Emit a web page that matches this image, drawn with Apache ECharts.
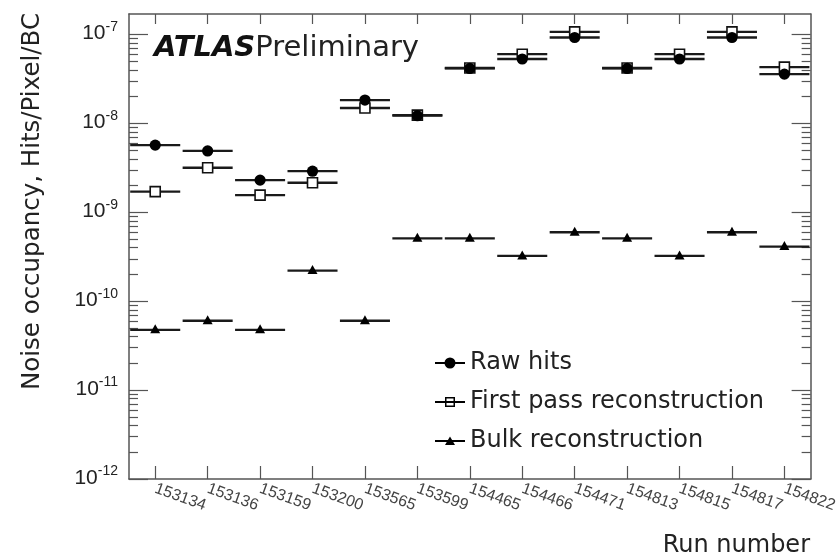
<!DOCTYPE html>
<html>
<head>
<meta charset="utf-8">
<script src="https://cdn.jsdelivr.net/npm/echarts@6/dist/echarts.min.js"></script>
<style>
  html, body { margin: 0; padding: 0; background: #fff; }
  #chart { width: 840px; height: 558px; }
</style>
</head>
<body>
<div id="chart"></div>
<script>
// Run numbers on the x axis
const runs = ['153134', '153136', '153159', '153200', '153565', '153599',
              '154465', '154466', '154471', '154813', '154815', '154817', '154822'];

// Noise occupancy (hits / pixel / bunch crossing) per run
const rawHits   = [5.7e-9, 4.9e-9, 2.3e-9, 2.9e-9, 1.83e-8, 1.22e-8,
                   4.15e-8, 5.3e-8, 9.25e-8, 4.15e-8, 5.3e-8, 9.25e-8, 3.58e-8];
const firstPass = [1.71e-9, 3.17e-9, 1.56e-9, 2.15e-9, 1.49e-8, 1.24e-8,
                   4.2e-8, 6.0e-8, 1.07e-7, 4.2e-8, 6.0e-8, 1.07e-7, 4.29e-8];
const bulkReco  = [4.76e-11, 6.03e-11, 4.76e-11, 2.21e-10, 6.03e-11, 5.1e-10,
                   5.1e-10, 3.23e-10, 5.96e-10, 5.1e-10, 3.23e-10, 5.96e-10, 4.11e-10];

// Decade tick values for the log axis
const decades = [1e-12, 1e-11, 1e-10, 1e-9, 1e-8, 1e-7];
const yMin = 1e-12;
const yMax = 1.7e-7;

// 2..9 sub-ticks inside each decade
const minorTicks = [];
decades.forEach(function (d) {
  for (let k = 2; k <= 9; k++) {
    const v = d * k;
    if (v < yMax) minorTicks.push(v);
  }
});

const frameColor = '#555';
const textColor = '#222';

// Horizontal bin bar plus a marker at the bin centre
function binRenderer(marker) {
  return function (params, api) {
    const xi = api.value(0);
    const v = api.value(1);
    const c = api.coord([xi, v]);
    const band = api.size([1, 0], [xi, v])[0];
    const half = band / 2 - 1.2;
    return {
      type: 'group',
      children: [
        {
          type: 'line',
          shape: { x1: c[0] - half, y1: c[1], x2: c[0] + half, y2: c[1] },
          style: { stroke: '#1a1a1a', lineWidth: 2.3 }
        },
        marker(c[0], c[1])
      ]
    };
  };
}

function circleMarker(x, y) {
  return { type: 'circle', shape: { cx: x, cy: y, r: 5.6 }, style: { fill: '#000' } };
}
function squareMarker(x, y) {
  return {
    type: 'rect',
    shape: { x: x - 5, y: y - 5, width: 10, height: 10 },
    style: { fill: '#fff', stroke: '#111', lineWidth: 1.6 }
  };
}
function triangleMarker(x, y) {
  return {
    type: 'polygon',
    shape: { points: [[x, y - 5.5], [x + 5, y + 3.5], [x - 5, y + 3.5]] },
    style: { fill: '#000' }
  };
}

function pairs(values) {
  return runs.map(function (r, i) { return [r, values[i]]; });
}

// Legend icons: a short horizontal bar with the marker on top.
// Tiny corner specks pin the icon box to 30x14 so nothing gets stretched.
const box = 'M0 0h0.01v0.01h-0.01Z M29.99 13.99h0.01v0.01h-0.01Z ';
const bar = 'M0 6H30V8H0Z ';
const iconRaw = 'path://' + box + bar + 'M20.5 7A5.5 5.5 0 1 1 9.5 7A5.5 5.5 0 1 1 20.5 7Z';
// open square built from its four edges, with the bar crossing it
const iconFirst = 'path://' + box +
  'M0 6H10V8H0Z M11.5 6H18.5V8H11.5Z M20 6H30V8H20Z ' +
  'M10 2H20V3.5H10Z M10 10.5H20V12H10Z M10 3.5H11.5V10.5H10Z M18.5 3.5H20V10.5H18.5Z';
const iconBulk = 'path://' + box + bar + 'M10 11L15 2.5L20 11Z';

const tickStyle = { color: frameColor, width: 1.2 };
const lineStyle = { color: frameColor, width: 1.5 };

const chart = echarts.init(document.getElementById('chart'));

chart.setOption({
  animation: false,
  grid: { left: 129, right: 26, top: 14, bottom: 79 },
  xAxis: [
    {
      type: 'category',
      data: runs,
      position: 'bottom',
      axisLine: { onZero: false, lineStyle: lineStyle },
      axisTick: { show: true, inside: true, alignWithLabel: true, interval: 0, length: 13, lineStyle: tickStyle },
      axisLabel: {
        interval: 0,
        rotate: -20,
        margin: 9,
        fontFamily: 'Liberation Sans',
        fontSize: 16,
        color: '#444'
      }
    },
    {
      // mirrored frame edge on top: ticks only, labels kept invisible inside the frame
      type: 'category',
      data: runs,
      position: 'top',
      axisLine: { onZero: false, lineStyle: lineStyle },
      axisTick: { show: true, inside: true, alignWithLabel: true, interval: 0, length: 10, lineStyle: tickStyle },
      axisLabel: { show: true, inside: true, interval: 0, margin: 0, fontSize: 1, color: 'rgba(0,0,0,0)' }
    }
  ],
  yAxis: [
    {
      type: 'log', min: yMin, max: yMax, position: 'left',
      splitLine: { show: false },
      axisLine: { show: true, lineStyle: lineStyle },
      axisTick: { show: true, inside: true, length: 19, customValues: decades, lineStyle: tickStyle },
      axisLabel: {
        customValues: decades,
        margin: 11,
        padding: [0, 0, 5, 0],
        formatter: function (v) {
          const e = Math.round(Math.log10(v));
          return '{b|10}{e|' + e + '}';
        },
        rich: {
          b: { fontFamily: 'Liberation Sans', fontSize: 21, lineHeight: 24, color: textColor, verticalAlign: 'bottom' },
          e: { fontFamily: 'Liberation Sans', fontSize: 14, lineHeight: 14, color: textColor, verticalAlign: 'top' }
        }
      }
    },
    {
      type: 'log', min: yMin, max: yMax, position: 'left',
      splitLine: { show: false },
      axisLine: { show: false },
      axisLabel: { show: false },
      axisTick: { show: true, inside: true, length: 9, customValues: minorTicks, lineStyle: tickStyle }
    },
    {
      type: 'log', min: yMin, max: yMax, position: 'right',
      splitLine: { show: false },
      axisLine: { show: true, lineStyle: lineStyle },
      axisLabel: { show: false },
      axisTick: { show: true, inside: true, length: 19, customValues: decades, lineStyle: tickStyle }
    },
    {
      type: 'log', min: yMin, max: yMax, position: 'right',
      splitLine: { show: false },
      axisLine: { show: false },
      axisLabel: { show: false },
      axisTick: { show: true, inside: true, length: 9, customValues: minorTicks, lineStyle: tickStyle }
    }
  ],
  legend: {
    orient: 'vertical',
    left: 430,
    top: 344,
    itemWidth: 30,
    itemHeight: 14,
    itemGap: 11,
    selectedMode: false,
    itemStyle: { borderWidth: 0 },
    textStyle: { fontFamily: 'DejaVu Sans', fontSize: 24, lineHeight: 28, color: textColor },
    data: [
      { name: 'Raw hits', icon: iconRaw },
      { name: 'First pass reconstruction', icon: iconFirst },
      { name: 'Bulk reconstruction', icon: iconBulk }
    ]
  },
  graphic: [
    {
      type: 'text',
      x: 33,
      y: 13,
      rotation: Math.PI / 2,
      style: {
        text: 'Noise occupancy, Hits/Pixel/BC',
        fontFamily: 'DejaVu Sans',
        fontSize: 24.5,
        fill: textColor,
        align: 'right',
        verticalAlign: 'middle'
      }
    },
    {
      type: 'text',
      x: 154,
      y: 48,
      style: {
        text: '{a|ATLAS}{p|Preliminary}',
        verticalAlign: 'middle',
        rich: {
          a: { fontFamily: 'DejaVu Sans', fontWeight: 'bold', fontStyle: 'italic', fontSize: 29, fill: '#111' },
          p: { fontFamily: 'DejaVu Sans', fontSize: 29, fill: textColor }
        }
      }
    },
    {
      type: 'text',
      x: 810,
      y: 546,
      style: {
        text: 'Run number',
        fontFamily: 'DejaVu Sans',
        fontSize: 24,
        fill: textColor,
        align: 'right',
        verticalAlign: 'middle'
      }
    }
  ],
  series: [
    {
      name: 'First pass reconstruction',
      type: 'custom',
      itemStyle: { color: '#000' },
      encode: { x: 0, y: 1 },
      renderItem: binRenderer(squareMarker),
      data: pairs(firstPass)
    },
    {
      name: 'Raw hits',
      type: 'custom',
      itemStyle: { color: '#000' },
      encode: { x: 0, y: 1 },
      renderItem: binRenderer(circleMarker),
      data: pairs(rawHits)
    },
    {
      name: 'Bulk reconstruction',
      type: 'custom',
      itemStyle: { color: '#000' },
      encode: { x: 0, y: 1 },
      renderItem: binRenderer(triangleMarker),
      data: pairs(bulkReco)
    }
  ]
});
</script>
</body>
</html>
